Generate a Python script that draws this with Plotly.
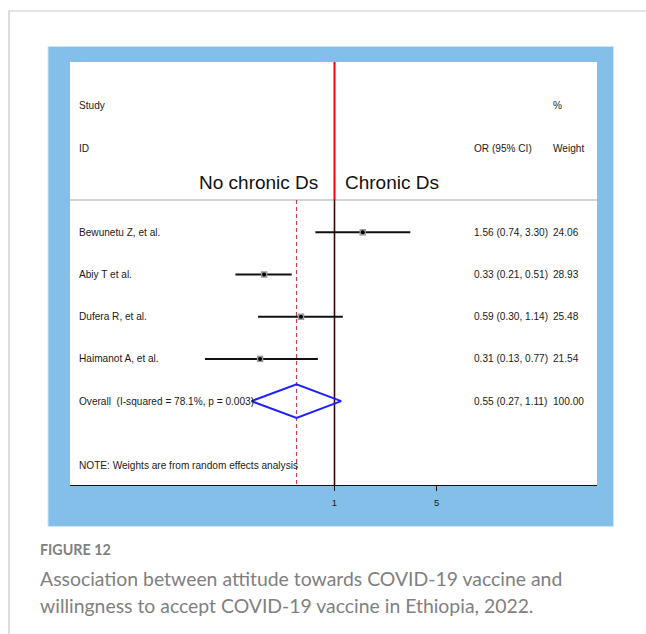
import plotly.graph_objects as go

# Study-level odds ratios (random effects meta-analysis)
studies = ["Bewunetu Z, et al.", "Abiy T et al.", "Dufera R, et al.", "Haimanot A, et al."]
odds_ratio = [1.56, 0.33, 0.59, 0.31]
ci_lower = [0.74, 0.21, 0.30, 0.13]
ci_upper = [3.30, 0.51, 1.14, 0.77]
weights = [24.06, 28.93, 25.48, 21.54]

overall_label = "Overall  (I-squared = 78.1%, p = 0.003)"
overall_or = 0.55
overall_lower = 0.27
overall_upper = 1.11
overall_weight = 100.00

tick_values = [1, 5]
tick_labels = ["1", "5"]

# Row positions (top to bottom); the y axis is reversed
rows = [1, 2, 3, 4]
overall_row = 5
y_top, y_bottom = -3.036, 6.988
header_sep = 0.235

W, H = 646, 634
L, R, T, B = 70, 49, 62, 149
plot_w, plot_h = W - L - R, H - T - B


def px_x(px):
    return (px - L) / plot_w


def px_y(py):
    return (H - B - py) / plot_h


TXT = dict(family="Liberation Sans, Arial, sans-serif", size=10.1, color="#1a1a1a")
BLUE_FRAME = "#84bfe9"

fig = go.Figure()

# null line: red across the header, dark below it
fig.add_trace(go.Scatter(x=[1, 1], y=[y_top, header_sep], mode="lines",
                         line=dict(color="#ff0000", width=2), hoverinfo="skip"))
fig.add_trace(go.Scatter(x=[1, 1], y=[header_sep, y_bottom], mode="lines",
                         line=dict(color="#3a0606", width=1.6), hoverinfo="skip"))
# pooled estimate reference line
fig.add_trace(go.Scatter(x=[overall_or, overall_or], y=[header_sep, y_bottom], mode="lines",
                         line=dict(color="#c0454a", width=1.2, dash="4px,3px"), hoverinfo="skip"))

# confidence intervals
ci_x, ci_y = [], []
for lo, hi, r in zip(ci_lower, ci_upper, rows):
    ci_x += [lo, hi, None]
    ci_y += [r, r, None]
fig.add_trace(go.Scatter(x=ci_x, y=ci_y, mode="lines",
                         line=dict(color="#111111", width=2), hoverinfo="skip"))

# weight boxes and point estimates
fig.add_trace(go.Scatter(x=odds_ratio, y=rows, mode="markers",
                         marker=dict(symbol="square", size=6.5, color="#9a9a9a", line=dict(width=0)),
                         hoverinfo="skip"))
fig.add_trace(go.Scatter(x=odds_ratio, y=rows, mode="markers",
                         marker=dict(symbol="circle", size=4, color="#000000", line=dict(width=0)),
                         hoverinfo="skip"))

# pooled diamond
dh = 0.40
fig.add_trace(go.Scatter(
    x=[overall_lower, overall_or, overall_upper, overall_or, overall_lower],
    y=[overall_row, overall_row - dh, overall_row, overall_row + dh, overall_row],
    mode="lines", line=dict(color="#1f1fff", width=2), hoverinfo="skip"))

annotations = []


def add_text(text, x, y, anchor="left", font=TXT, xref="paper", yref="y"):
    annotations.append(dict(text=text, x=x, y=y, xref=xref, yref=yref,
                            xanchor=anchor, yanchor="middle", showarrow=False,
                            font=font, borderpad=0))


x_id = px_x(78)
x_or = px_x(473)
x_wt = px_x(552)

add_text("Study", x_id, -2.017)
add_text("ID", x_id, -0.998)
add_text("%", x_wt, -2.017)
add_text("OR (95% CI)", x_or, -0.998)
add_text("Weight", x_wt, -0.998)

big = dict(family="Liberation Sans, Arial, sans-serif", size=19, color="#111111")
add_text("No chronic Ds", px_x(319), -0.17, anchor="right", font=big)
add_text("Chronic Ds", px_x(344), -0.17, anchor="left", font=big)

for name, o, lo, hi, w, r in zip(studies, odds_ratio, ci_lower, ci_upper, weights, rows):
    add_text(name, x_id, r)
    add_text(f"{o:.2f} ({lo:.2f}, {hi:.2f})", x_or, r)
    add_text(f"{w:.2f}", x_wt, r)

add_text(overall_label, x_id, overall_row)
add_text(f"{overall_or:.2f} ({overall_lower:.2f}, {overall_upper:.2f})", x_or, overall_row)
add_text(f"{overall_weight:.2f}", x_wt, overall_row)
add_text("NOTE: Weights are from random effects analysis", x_id, 6.53)

# figure caption
cap_gray = "#808080"
cap_font = "Lato, Open Sans, sans-serif"
add_text("<b>FIGURE 12</b>", px_x(39), px_y(549),
         font=dict(family=cap_font, size=14.3, color=cap_gray), yref="paper")
add_text("Association between attitude towards COVID-19 vaccine and", px_x(39), px_y(578),
         font=dict(family=cap_font, size=19.4, color=cap_gray), yref="paper")
add_text("willingness to accept COVID-19 vaccine in Ethiopia, 2022.", px_x(39), px_y(605),
         font=dict(family=cap_font, size=19.4, color=cap_gray), yref="paper")

shapes = [
    # outer page border
    dict(type="rect", xref="paper", yref="paper", layer="below",
         x0=px_x(9), x1=px_x(700), y0=px_y(700), y1=px_y(11),
         line=dict(color="#c9c9c9", width=1.2), fillcolor="rgba(0,0,0,0)"),
    # blue frame around the plot panel
    dict(type="rect", xref="paper", yref="paper", layer="below",
         x0=px_x(48), x1=px_x(613.5), y0=px_y(526.5), y1=px_y(46.5),
         line=dict(color="#cfe4f4", width=1), fillcolor=BLUE_FRAME),
    # white plot panel
    dict(type="rect", xref="paper", yref="paper", layer="below",
         x0=0, x1=1, y0=0, y1=1, line=dict(width=0), fillcolor="#ffffff"),
    # header separator
    dict(type="line", xref="paper", yref="y", layer="below",
         x0=0, x1=1, y0=header_sep, y1=header_sep,
         line=dict(color="#c4c4c4", width=1.5)),
]

fig.update_layout(
    width=W, height=H,
    margin=dict(l=L, r=R, t=T, b=B),
    paper_bgcolor="#ffffff",
    plot_bgcolor="rgba(0,0,0,0)",
    showlegend=False,
    annotations=annotations,
    shapes=shapes,
    xaxis=dict(type="log", range=[-1.809, 1.7955], tickvals=tick_values, ticktext=tick_labels,
               ticks="outside", ticklen=5, tickwidth=1, tickcolor="#111111",
               ticklabelstandoff=3,
               showline=True, linecolor="#111111", linewidth=1.2, mirror=False,
               showgrid=False, zeroline=False,
               tickfont=dict(family="Liberation Sans, Arial, sans-serif", size=9.5, color="#1a1a1a")),
    yaxis=dict(range=[y_bottom, y_top], visible=False, showgrid=False, zeroline=False),
)

fig.write_html("out.html")
